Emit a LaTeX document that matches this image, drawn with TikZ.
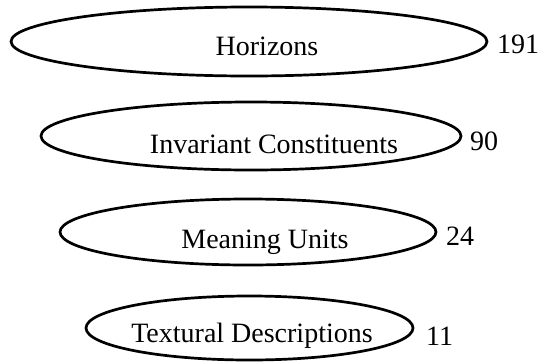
\documentclass[tikz,border=0pt]{standalone}
\usepackage{fontspec}
\setmainfont{Liberation Serif}
\usetikzlibrary{shapes.geometric}
\begin{document}
\begin{tikzpicture}[x=1pt,y=-1pt,
  oval/.style={draw,ellipse,line width=2.7pt,inner sep=0pt},
  txt/.style={anchor=base,inner sep=0pt,font=\fontsize{28}{34}\selectfont},
  cnt/.style={anchor=base west,inner sep=0pt,font=\fontsize{28}{34}\selectfont}]
\useasboundingbox (0,0) rectangle (538,362);
\node[oval,minimum width=476pt,minimum height=69pt] (e1) at (249,41.5) {};
\node[oval,minimum width=420pt,minimum height=68pt] (e2) at (251,136) {};
\node[oval,minimum width=376pt,minimum height=66pt] (e3) at (248,232) {};
\node[oval,minimum width=327pt,minimum height=64pt] (e4) at (249.5,328) {};
\node[txt] (t1) at (267,55) {Horizons};
\node[txt] (t2) at (274,153) {Invariant Constituents};
\node[txt] (t3) at (265,248) {Meaning Units};
\node[txt] (t4) at (252,342) {Textural Descriptions};
\node[cnt] (c1) at (497,53) {191};
\node[cnt] (c2) at (470,150) {90};
\node[cnt] (c3) at (446,245) {24};
\node[cnt] (c4) at (426,345) {11};
\end{tikzpicture}
\end{document}
